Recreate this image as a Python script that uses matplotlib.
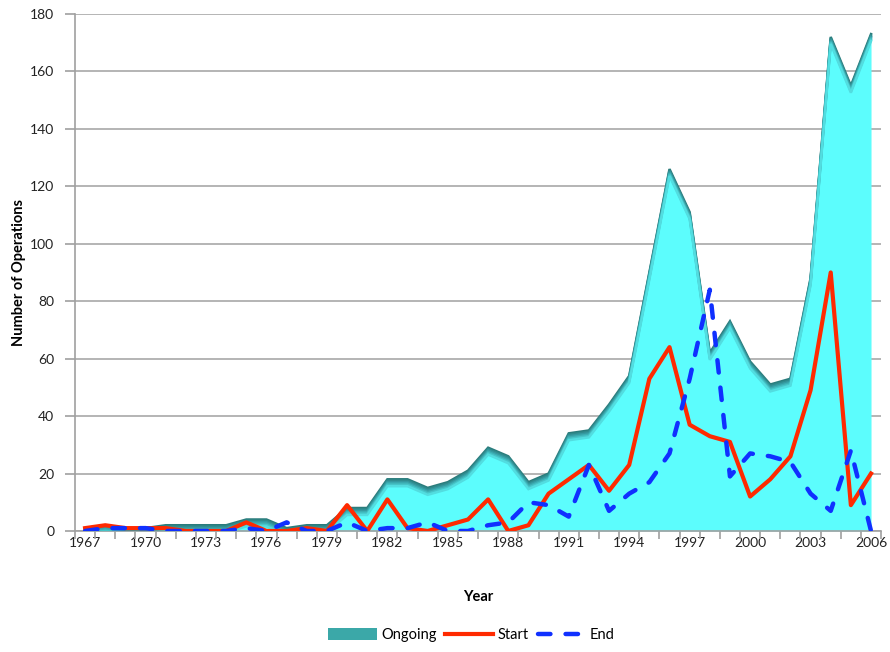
import numpy as np
import matplotlib.pyplot as plt
import matplotlib.transforms as mtransforms
from matplotlib.patches import Patch
from matplotlib.lines import Line2D

plt.rcParams['font.family'] = ['Lato', 'DejaVu Sans']

years = list(range(1967, 2007))
ongoing = [1, 2, 1, 1, 2, 2, 2, 2, 4, 4,
           1, 2, 2, 8, 8, 18, 18, 15, 17, 21,
           29, 26, 17, 20, 34, 35, 44, 54, 90, 126,
           111, 62, 73, 59, 51, 53, 88, 172, 155, 173]
start = [1, 2, 1, 1, 1, 0, 0, 0, 3, 0,
         0, 1, 0, 9, 0, 11, 1, 0, 2, 4,
         11, 0, 2, 13, 18, 23, 14, 23, 53, 64,
         37, 33, 31, 12, 18, 26, 49, 90, 9, 20]
end = [0, 1, 1, 1, 0, 0, 0, 0, 1, 0,
       3, 0, 0, 3, 0, 1, 1, 3, 0, 0,
       2, 3, 10, 9, 5, 23, 7, 13, 17, 27,
       53, 84, 19, 27, 26, 24, 13, 7, 28, 0]
label_years = list(range(1967, 2007, 3))

fig = plt.figure(figsize=(8.9, 6.52), dpi=100)
ax = fig.add_axes([0.0843, 0.1856, 0.9057, 0.793])

# area with a soft dark top edge
ax.fill_between(years, ongoing, color='#5CFDFD', lw=0, zorder=2)
edge_cols = ['#2B7C7C', '#2F8A8C', '#3599A0', '#3CAEB3', '#46C4C8', '#52DDE0']
for k, c in enumerate(edge_cols):
    tr = mtransforms.offset_copy(ax.transData, fig=fig, x=0, y=-1.0 * k, units='points')
    ax.plot(years, ongoing, color=c, lw=1.8, transform=tr, zorder=3,
            solid_joinstyle='miter')

ax.plot(years, start, color='#FF2A00', lw=3.0, zorder=5)
ax.plot(years, end, color='#1030FF', lw=3.2, dashes=(2.8, 3.4),
        dash_capstyle='round', zorder=6)

ax.set_xlim(1966.5, 2006.5)
ax.set_ylim(0, 180)
ax.set_yticks(range(0, 181, 20))
ax.set_xticks(label_years)
ax.set_xticks(np.arange(1966.5, 2007, 1), minor=True)
ax.tick_params(axis='x', which='major', length=0, pad=4, labelsize=10, colors='#222222')
ax.tick_params(axis='x', which='minor', length=6, color='#A0A0A0', width=1.2)
ax.tick_params(axis='y', length=7, color='#A0A0A0', width=1.2, pad=8,
               labelsize=10, colors='#222222')
ax.grid(axis='y', color='#A8A8A8', lw=1.2, zorder=0)
ax.set_axisbelow(True)
for s in ['top', 'right']:
    ax.spines[s].set_visible(False)
for s in ['left', 'bottom']:
    ax.spines[s].set_color('#A0A0A0')
    ax.spines[s].set_linewidth(1.2)

ax.set_xlabel('Year', fontsize=10.5, fontweight='bold', labelpad=30)
ax.set_ylabel('Number of Operations', fontsize=10.5, fontweight='bold', labelpad=3)

handles = [Patch(facecolor='#3BA8A8', edgecolor='none'),
           Line2D([0], [0], color='#FF2A00', lw=3.0),
           Line2D([0], [0], color='#1030FF', lw=3.2, dashes=(2.8, 3.4),
                  dash_capstyle='round')]
fig.legend(handles, ['Ongoing', 'Start', 'End'], loc='center',
           bbox_to_anchor=(0.53, 0.026), ncol=3, frameon=False, fontsize=10.5,
           handlelength=3.3, handleheight=0.9, columnspacing=0.6, handletextpad=0.3)

fig.savefig('out.png', dpi=100)
